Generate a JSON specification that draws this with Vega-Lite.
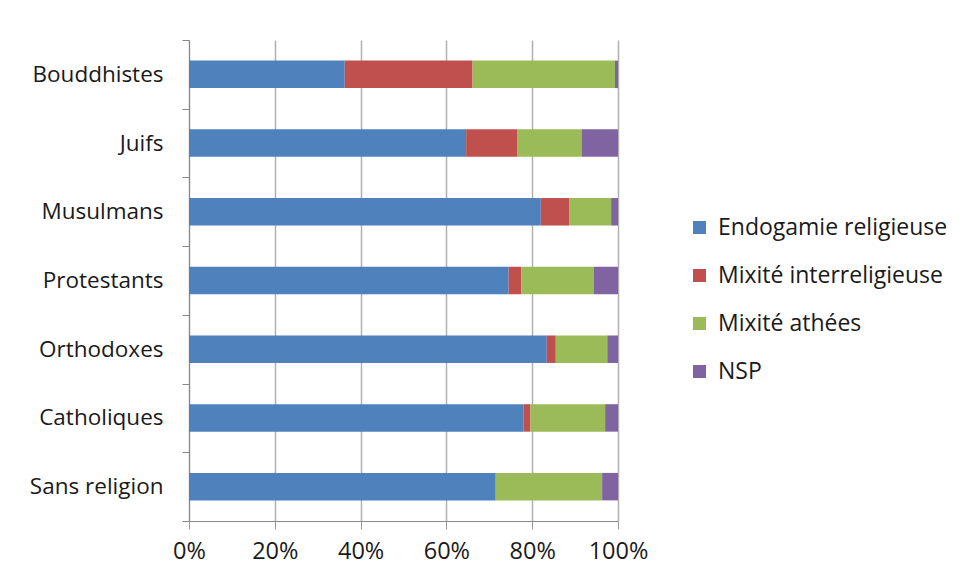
{
  "$schema": "https://vega.github.io/schema/vega-lite/v6.json",
  "width": 429,
  "height": 481,
  "autosize": {"type": "none"},
  "padding": {"left": 189, "top": 40, "right": 341, "bottom": 59},
  "background": "white",
  "config": {
    "view": {"stroke": null},
    "font": "Open Sans",
    "axis": {"labelFont": "Open Sans", "labelColor": "#1a1a1a"},
    "legend": {"labelFont": "Open Sans"}
  },
  "data": {
    "values": [
      {"religion": "Bouddhistes", "type": "Endogamie religieuse", "o": 1, "v": 36.3},
      {"religion": "Bouddhistes", "type": "Mixité interreligieuse", "o": 2, "v": 29.8},
      {"religion": "Bouddhistes", "type": "Mixité athées", "o": 3, "v": 33.2},
      {"religion": "Bouddhistes", "type": "NSP", "o": 4, "v": 0.7},
      {"religion": "Juifs", "type": "Endogamie religieuse", "o": 1, "v": 64.6},
      {"religion": "Juifs", "type": "Mixité interreligieuse", "o": 2, "v": 12.0},
      {"religion": "Juifs", "type": "Mixité athées", "o": 3, "v": 14.9},
      {"religion": "Juifs", "type": "NSP", "o": 4, "v": 8.5},
      {"religion": "Musulmans", "type": "Endogamie religieuse", "o": 1, "v": 82.0},
      {"religion": "Musulmans", "type": "Mixité interreligieuse", "o": 2, "v": 6.6},
      {"religion": "Musulmans", "type": "Mixité athées", "o": 3, "v": 9.8},
      {"religion": "Musulmans", "type": "NSP", "o": 4, "v": 1.6},
      {"religion": "Protestants", "type": "Endogamie religieuse", "o": 1, "v": 74.5},
      {"religion": "Protestants", "type": "Mixité interreligieuse", "o": 2, "v": 3.0},
      {"religion": "Protestants", "type": "Mixité athées", "o": 3, "v": 16.8},
      {"religion": "Protestants", "type": "NSP", "o": 4, "v": 5.7},
      {"religion": "Orthodoxes", "type": "Endogamie religieuse", "o": 1, "v": 83.4},
      {"religion": "Orthodoxes", "type": "Mixité interreligieuse", "o": 2, "v": 2.1},
      {"religion": "Orthodoxes", "type": "Mixité athées", "o": 3, "v": 12.0},
      {"religion": "Orthodoxes", "type": "NSP", "o": 4, "v": 2.5},
      {"religion": "Catholiques", "type": "Endogamie religieuse", "o": 1, "v": 78.0},
      {"religion": "Catholiques", "type": "Mixité interreligieuse", "o": 2, "v": 1.6},
      {"religion": "Catholiques", "type": "Mixité athées", "o": 3, "v": 17.4},
      {"religion": "Catholiques", "type": "NSP", "o": 4, "v": 3.0},
      {"religion": "Sans religion", "type": "Endogamie religieuse", "o": 1, "v": 71.5},
      {"religion": "Sans religion", "type": "Mixité interreligieuse", "o": 2, "v": 0},
      {"religion": "Sans religion", "type": "Mixité athées", "o": 3, "v": 24.8},
      {"religion": "Sans religion", "type": "NSP", "o": 4, "v": 3.7}
    ]
  },
  "mark": {"type": "bar", "height": {"band": 0.4}},
  "encoding": {
    "y": {
      "field": "religion",
      "type": "nominal",
      "sort": ["Bouddhistes", "Juifs", "Musulmans", "Protestants", "Orthodoxes", "Catholiques", "Sans religion"],
      "scale": {"paddingInner": 0, "paddingOuter": 0},
      "axis": {
        "title": null,
        "labelFontSize": 22.5,
        "labelPadding": 19,
        "tickBand": "extent",
        "tickSize": 7,
        "tickColor": "#888888",
        "domainColor": "#888888",
        "grid": false
      }
    },
    "x": {
      "field": "v",
      "type": "quantitative",
      "stack": "normalize",
      "scale": {"domain": [0, 1]},
      "axis": {
        "title": null,
        "format": "%",
        "values": [0, 0.2, 0.4, 0.6, 0.8, 1],
        "labelFontSize": 23.5,
        "labelFlush": false,
        "labelPadding": 10,
        "tickSize": 8,
        "tickColor": "#999999",
        "domainColor": "#888888",
        "grid": true,
        "gridColor": "#b0b0b0",
        "gridWidth": 1.5
      }
    },
    "color": {
      "field": "type",
      "type": "nominal",
      "scale": {
        "domain": ["Endogamie religieuse", "Mixité interreligieuse", "Mixité athées", "NSP"],
        "range": ["#4F81BD", "#C0504D", "#9BBB59", "#8064A2"]
      },
      "legend": {
        "title": null,
        "orient": "none",
        "legendX": 499,
        "legendY": 176,
        "symbolType": "square",
        "symbolSize": 169,
        "symbolStrokeWidth": 0,
        "labelFontSize": 23,
        "labelLimit": 400,
        "labelColor": "#1a1a1a",
        "rowPadding": 24,
        "labelOffset": 7
      }
    },
    "order": {"field": "o", "type": "quantitative"}
  }
}
